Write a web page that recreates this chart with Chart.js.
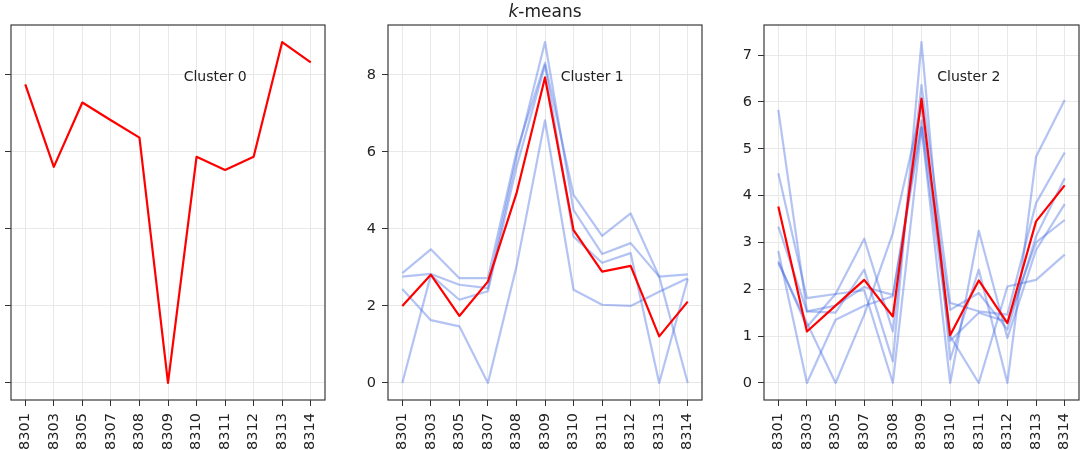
<!DOCTYPE html>
<html>
<head>
<meta charset="utf-8">
<script src="https://cdn.jsdelivr.net/npm/chart.js@4.4.1/dist/chart.umd.min.js"></script>
<style>
    html, body { margin: 0; padding: 0; background: #fff; overflow: hidden; }
    body { position: relative; width: 1082px; height: 450px; }
    canvas { position: absolute; top: 0; }
</style>
</head>
<body>
<canvas id="c0"></canvas>
<canvas id="c1"></canvas>
<canvas id="c2"></canvas>
<script>
// stasiun (sumbu x)
const stations = ['8301', '8303', '8305', '8307', '8308', '8309', '8310', '8311', '8312', '8313', '8314'];

// cluster 0: satu anggota
const cluster0Center = [7.75, 5.61, 7.28, 6.82, 6.37, 0, 5.87, 5.53, 5.87, 8.85, 8.32];
const cluster0Members = [];

// cluster 1
const cluster1Center = [2.0, 2.81, 1.74, 2.63, 4.92, 7.93, 3.97, 2.89, 3.04, 1.21, 2.11];
const cluster1Members = [
    [2.85, 3.47, 2.72, 2.72, 6.0, 8.31, 4.88, 3.82, 4.40, 2.76, 2.82],
    [2.76, 2.83, 2.55, 2.46, 5.85, 8.85, 4.49, 3.35, 3.63, 2.76, 0],
    [2.44, 1.63, 1.47, 0, 3.02, 6.82, 2.42, 2.03, 2.0, 2.37, 2.72],
    [0, 2.80, 2.16, 2.38, 5.6, 8.25, 3.80, 3.12, 3.37, 0, 2.70]
];

// cluster 2
const cluster2Center = [3.77, 1.10, 1.65, 2.20, 1.42, 6.07, 1.02, 2.19, 1.28, 3.45, 4.22];
const cluster2Members = [
    [5.83, 1.53, 1.65, 2.05, 1.88, 5.61, 1.56, 1.92, 1.14, 3.13, 4.37],
    [4.48, 1.81, 1.90, 3.08, 1.10, 6.36, 1.71, 1.53, 1.46, 3.84, 4.92],
    [3.34, 1.53, 1.50, 2.42, 0.46, 7.28, 0.50, 2.42, 0, 4.83, 6.04],
    [2.82, 0, 1.35, 1.65, 1.85, 5.47, 0, 3.25, 0.96, 2.84, 3.82],
    [2.56, 1.28, 0, 1.46, 3.20, 5.90, 1.00, 0, 2.06, 2.20, 2.74],
    [2.60, 1.20, 1.90, 1.98, 0, 5.45, 0.90, 1.50, 1.30, 3.00, 3.48]
];

const FONT = '"DejaVu Sans", sans-serif';
const Y_W = 45;      // lebar sumbu y
const X_H = 50;      // tinggi sumbu x
const TOP = 25;
const RIGHT_PAD = 4;

// kotak + label cluster
const framePlugin = {
    id: 'frame',
    afterDraw(chart, args, opts) {
        const ctx = chart.ctx;
        const a = chart.chartArea;
        ctx.save();
        ctx.strokeStyle = '#3a3a3a';
        ctx.lineWidth = 1.2;
        ctx.strokeRect(a.left, a.top, a.right - a.left, a.bottom - a.top);
        ctx.fillStyle = '#222';
        ctx.font = '14px ' + FONT;
        ctx.textAlign = 'left';
        ctx.textBaseline = 'alphabetic';
        ctx.fillText(opts.caption, a.left + 0.55 * (a.right - a.left), a.bottom - 0.85 * (a.bottom - a.top));
        if (opts.title) {
            // judul "k-means" dengan k miring
            const italic = 'italic 17px ' + FONT;
            const normal = '17px ' + FONT;
            ctx.font = italic;
            const w1 = ctx.measureText('k').width;
            ctx.font = normal;
            const w2 = ctx.measureText('-means').width;
            const x0 = (a.left + a.right) / 2 - (w1 + w2) / 2;
            ctx.font = italic;
            ctx.fillText('k', x0, 17);
            ctx.font = normal;
            ctx.fillText('-means', x0 + w1, 17);
        }
        ctx.restore();
    }
};

function makeChart(id, boxLeft, boxRight, center, members, yStep, caption, title) {
    const canvas = document.getElementById(id);
    const width = Y_W + (boxRight - boxLeft) + RIGHT_PAD;
    canvas.width = width;
    canvas.height = 450;
    canvas.style.left = (boxLeft - Y_W) + 'px';
    canvas.style.width = width + 'px';
    canvas.style.height = '450px';

    const all = center.concat(...members);
    const lo = Math.min(...all);
    const hi = Math.max(...all);
    const pad = 0.05 * (hi - lo);

    const datasets = [{
        data: center,
        borderColor: '#ff0000',
        borderWidth: 2.2,
        pointRadius: 0,
        borderJoinStyle: 'round'
    }];
    members.forEach(m => datasets.push({
        data: m,
        borderColor: 'rgba(65, 105, 225, 0.4)',
        borderWidth: 2.2,
        pointRadius: 0,
        borderJoinStyle: 'round'
    }));

    return new Chart(canvas.getContext('2d'), {
        type: 'line',
        data: { labels: stations, datasets: datasets },
        options: {
            responsive: false,
            animation: false,
            devicePixelRatio: 1,
            layout: { padding: { top: TOP, right: RIGHT_PAD, left: 0, bottom: 0 } },
            plugins: {
                legend: { display: false },
                tooltip: { enabled: false },
                frame: { caption: caption, title: title }
            },
            scales: {
                x: {
                    type: 'category',
                    offset: true,
                    grid: { offset: false, color: '#e8e8e8', tickColor: '#333', tickLength: 6 },
                    border: { display: false },
                    ticks: {
                        minRotation: 90, maxRotation: 90, autoSkip: false,
                        padding: 7, color: '#222', font: { family: FONT, size: 14.5 }
                    },
                    afterFit(scale) {
                        scale.height = X_H;
                        scale.paddingLeft = 0;
                        scale.paddingRight = 0;
                    }
                },
                y: {
                    min: lo - pad,
                    max: hi + pad,
                    grid: { color: '#e8e8e8', tickColor: '#333', tickLength: 6 },
                    border: { display: false },
                    ticks: {
                        stepSize: yStep, includeBounds: false,
                        padding: 6, color: '#222', font: { family: FONT, size: 14.5 }
                    },
                    afterFit(scale) {
                        scale.width = Y_W;
                        scale.paddingTop = 0;
                        scale.paddingBottom = 0;
                    }
                }
            }
        },
        plugins: [framePlugin]
    });
}

makeChart('c0', 11, 325, cluster0Center, cluster0Members, 2, 'Cluster 0', false);
makeChart('c1', 388, 702, cluster1Center, cluster1Members, 2, 'Cluster 1', true);
makeChart('c2', 764, 1079, cluster2Center, cluster2Members, 1, 'Cluster 2', false);
</script>
</body>
</html>
